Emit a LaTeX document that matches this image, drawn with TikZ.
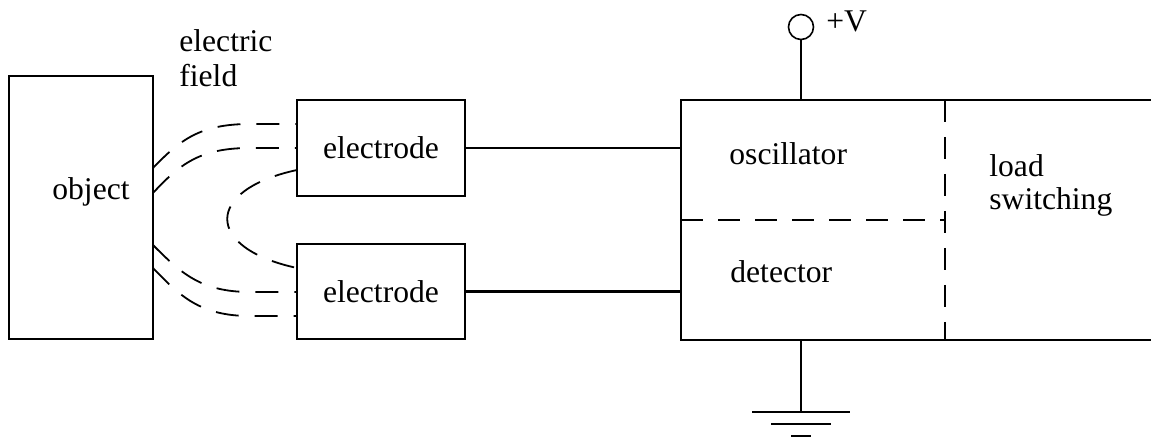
\documentclass[tikz,border=0pt]{standalone}
\usepackage{fontspec}
\setmainfont{Liberation Serif}
\begin{document}
\begin{tikzpicture}[x=0.5pt,y=-0.5pt,line width=1.4pt,
  box/.style={draw,inner sep=0pt},
  lbl/.style={font=\fontsize{15.8}{19}\selectfont,inner sep=0pt,anchor=base west},
  field/.style={line width=0.9pt,dash pattern=on 11.5pt off 8pt},
  sep/.style={dash pattern=on 11pt off 7.5pt}]
\useasboundingbox (0,0) rectangle (1151,437);
% blocks
\node[box,minimum width=72pt,minimum height=131.5pt] (obj) at (81,207.5) {};
\node[lbl] (objt) at (51,200) {object};
\node[box,minimum width=84pt,minimum height=48pt,font=\fontsize{15.8}{19}\selectfont] (e1) at (381,148) {electrode};
\node[box,minimum width=84pt,minimum height=47.5pt,font=\fontsize{15.8}{19}\selectfont] (e2) at (381,291.5) {electrode};
\node[lbl] (ef1) at (178,52) {electric};
\node[lbl] (ef2) at (178,87) {field};
% main box (open on the right)
\coordinate (tl) at (681,100);
\coordinate (bl) at (681,340);
\coordinate (tr) at (1151,100);
\coordinate (br) at (1151,340);
\coordinate (dt) at (945,100);
\coordinate (db) at (945,340);
\coordinate (hl) at (681,220);
\coordinate (hr) at (945,220);
\draw (tr) -- (tl) -- (bl) -- (br);
\draw[sep] (hl) -- (hr);
\draw[sep] (dt) -- (db);
\node[lbl] (osc) at (728,165) {oscillator};
\node[lbl] (det) at (729,283) {detector};
\node[lbl] (ld1) at (988,177) {load};
\node[lbl] (ld2) at (988,210) {switching};
% connections
\draw (e1.east) -- (e1.east -| tl);
\draw (e2.east) -- (e2.east -| bl);
% +V
\node[circle,draw,line width=0.8pt,minimum size=12.5pt,inner sep=0pt] (vcc) at (801,27) {};
\node[lbl] (vl) at (825,32) {+V};
\draw (vcc.south) -- (vcc.south |- tl);
% ground
\coordinate (gtop) at (801,340);
\coordinate (gnd) at (801,412);
\draw (gtop) -- (gnd);
\draw (752,412) -- (850,412);
\draw (771,424) -- (831,424);
\draw (791,436) -- (811,436);
% electric field lines
\draw[field] (153,168) .. controls (180,140) and (200,124) .. (250,124) -- (297,124);
\draw[field] (153,193) .. controls (180,164) and (200,148) .. (250,148) -- (297,148);
\draw[field] (297,170) .. controls (204,190) and (204,248) .. (297,268);
\draw[field] (153,245) .. controls (180,272) and (200,292) .. (250,292) -- (297,292);
\draw[field] (153,268) .. controls (180,296) and (200,316) .. (250,316) -- (297,316);
\end{tikzpicture}
\end{document}
